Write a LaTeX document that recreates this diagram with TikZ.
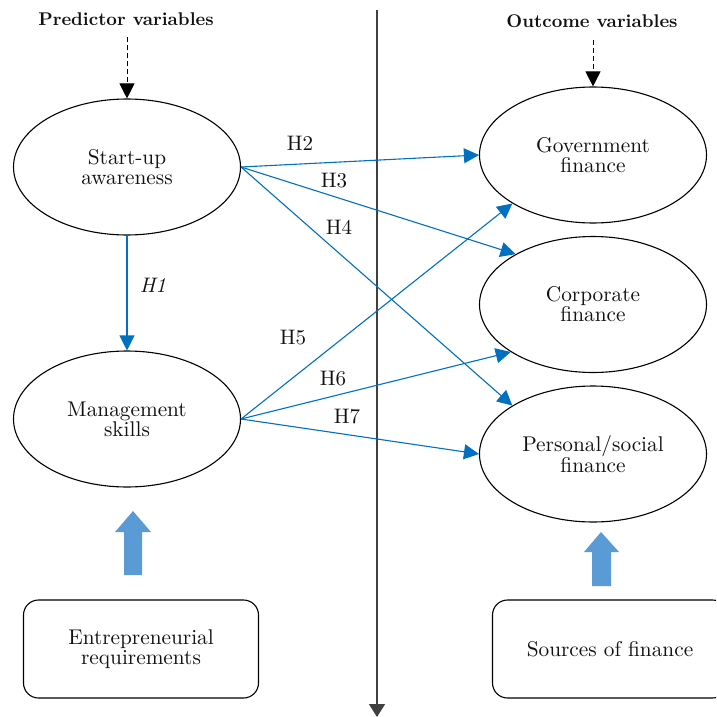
\documentclass[tikz,border=0pt]{standalone}
\usepackage{fontspec}
% one design size of Latin Modern, scaled, for an even stroke weight at large sizes
\setmainfont{lmroman10-regular.otf}[
  BoldFont=lmroman10-bold.otf,
  ItalicFont=lmroman10-italic.otf,
  BoldItalicFont=lmroman10-bolditalic.otf]
\usetikzlibrary{shapes.geometric,arrows.meta}
\definecolor{linkblue}{HTML}{0070C0}
\definecolor{blockblue}{HTML}{5B9BD5}
\definecolor{axisgray}{HTML}{404040}
\definecolor{ink}{HTML}{111111}
\begin{document}
\begin{tikzpicture}[x=1pt,y=-1pt,
  txt/.style={font=\fontsize{21.3}{20}\selectfont, align=center, text=ink},
  var/.style={txt, ellipse, draw, line width=1.1pt, minimum width=227pt, minimum height=136pt, inner sep=0pt},
  srcbox/.style={txt, draw, rounded corners=15pt, line width=1.1pt, minimum width=235pt, minimum height=98pt, inner sep=0pt},
  heading/.style={font=\fontsize{18.4}{18.4}\selectfont\bfseries, text=ink},
  hyp/.style={-{Triangle[length=15pt,width=15pt]}, draw=linkblue, line width=1.1pt},
  hlabel/.style={font=\fontsize{21}{21}\selectfont, text=ink},
  lead/.style={-{Triangle[length=15pt,width=15pt]}, dash pattern=on 5pt off 3pt, line width=1pt},
  block/.style={fill=blockblue, draw=none}]
\clip (0,0) rectangle (716,717);

% headings
\node[heading] (pred) at (126,19) {Predictor variables};
\node[heading] (outc) at (592,21) {Outcome variables};

% latent variables
\node[var] (sa)   at (127,167)   {Start-up\\awareness};
\node[var] (ms)   at (127,419)   {Management\\skills};
\node[var] (gov)  at (593,155)   {Government\\finance};
\node[var] (corp) at (593,304.5) {Corporate\\finance};
\node[var] (pers) at (593,454)   {Personal/social\\finance};

% source boxes
\node[srcbox] (req) at (141,649) {Entrepreneurial\\requirements};
\node[srcbox] (src) at (610,649) {Sources of finance};

% dashed pointers from the headings
\coordinate (predend) at (127,37);
\coordinate (outcend) at (593,40);
\draw[lead] (predend) -- (sa.north);
\draw[lead] (outcend) -- (gov.north);

% dividing axis
\coordinate (axtop) at (377,10);
\coordinate (axbot) at (377,717);
\draw[axisgray, line width=1.5pt, -{Triangle[length=13pt,width=16pt]}] (axtop) -- (axbot);

% hypothesised paths
\draw[hyp] (sa.south) -- (ms.north);
\draw[hyp] (sa.east) -- (gov.west);
\draw[hyp] (sa.east) -- (corp.147);
\draw[hyp] (sa.east) -- (pers.149);
\draw[hyp] (ms.east) -- (gov.211.5);
\draw[hyp] (ms.east) -- (corp.210);
\draw[hyp] (ms.east) -- (pers.west);

% path labels
\node[hlabel] (h1) at (153,285) {\itshape H1};
\node[hlabel] (h2) at (300,143) {H2};
\node[hlabel] (h3) at (334,181) {H3};
\node[hlabel] (h4) at (339,227) {H4};
\node[hlabel] (h5) at (293,338) {H5};
\node[hlabel] (h6) at (333,379) {H6};
\node[hlabel] (h7) at (347,417) {H7};

% block arrows
\fill[block] (124,575) -- (124,532) -- (115,532) -- (133,511) -- (151,532) -- (142,532) -- (142,575) -- cycle;
\fill[block] (592,586) -- (592,552) -- (584,552) -- (601,532) -- (619,552) -- (611,552) -- (611,586) -- cycle;
\end{tikzpicture}
\end{document}
